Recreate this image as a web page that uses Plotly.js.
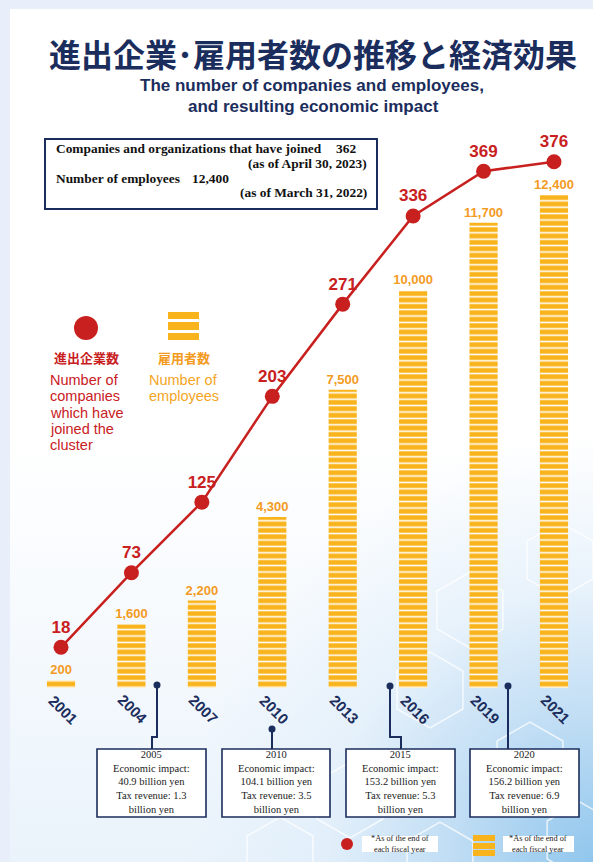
<!DOCTYPE html>
<html>
<head>
<meta charset="utf-8">
<script src="https://cdn.plot.ly/plotly-3.0.1.min.js"></script>
<style>
html,body{margin:0;padding:0;width:593px;height:862px;overflow:hidden;background:#E8EFFA;}
#panel{position:absolute;left:10px;top:9px;width:583px;height:853px;
background:
 radial-gradient(ellipse 70% 50% at 100% 100%, rgba(140,196,236,0.95) 0%, rgba(178,214,242,0.75) 35%, rgba(215,233,249,0.45) 65%, rgba(255,255,255,0) 100%),
 linear-gradient(to bottom, #ffffff 0%, #ffffff 50%, #EAF3FB 100%);}
#chart{position:absolute;left:0;top:0;width:593px;height:862px;}
</style>
</head>
<body>
<div id="panel"></div>
<div id="chart"></div>
<script>
// ---- data ----
const years = ["2001","2004","2007","2010","2013","2016","2019","2021"];
const companies = [18, 73, 125, 203, 271, 336, 369, 376];
const employees = [200, 1600, 2200, 4300, 7500, 10000, 11700, 12400];
const employeeLabels = ["200","1,600","2,200","4,300","7,500","10,000","11,700","12,400"];
const calloutYears = ["2005","2010","2015","2020"];
const calloutImpact = ["40.9","104.1","153.2","156.2"];
const calloutTax = ["1.3","3.5","5.3","6.9"];
const joinedCount = "362";
const joinedDate = "(as of April 30, 2023)";
const employeeCount = "12,400";
const employeeDate = "(as of March 31, 2022)";

// ---- helpers (pixel -> paper) ----
const W = 593, H = 862;
const px = x => x / W;
const py = y => 1 - y / H;

const NAVY = '#1B2D5C';
const RED = '#C8201E';
const BAR = '#F9B41D';
const ORANGE = '#F39B1F';

const traces = [
  {
    type: 'bar', x: years, y: employees,
    text: employeeLabels, textposition: 'outside', constraintext: 'none', cliponaxis: false,
    textfont: {family: 'Liberation Sans', size: 13, color: ORANGE, weight: 'bold'},
    marker: {color: BAR, line: {width: 0},
      pattern: {shape: '-', fillmode: 'replace', bgcolor: BAR, fgcolor: '#FFFFFF', size: 6.4, solidity: 0.24}},
    hoverinfo: 'skip', showlegend: false
  },
  {
    type: 'scatter', mode: 'lines+markers+text', x: years, y: companies, yaxis: 'y2',
    line: {color: RED, width: 2.5},
    marker: {color: RED, size: 15},
    text: companies.map(String), textposition: 'top center', cliponaxis: false,
    textfont: {family: 'Liberation Sans', size: 17, color: RED, weight: 'bold'},
    hoverinfo: 'skip', showlegend: false
  }
];

const ann = [];
const shapes = [];
function txt(x, y, text, opts) {
  ann.push(Object.assign({x: px(x), y: py(y), xref: 'paper', yref: 'paper', text: text,
    showarrow: false, xanchor: 'center', yanchor: 'middle'}, opts || {}));
}

// Title
txt(313, 53, '進出企業･雇用者数の推移と経済効果',
  {font: {family: 'Noto Sans CJK JP', size: 32, color: NAVY, weight: 'bold'}});
txt(312, 86, 'The number of companies and employees,',
  {font: {family: 'Liberation Sans', size: 17, color: NAVY, weight: 'bold'}});
txt(313, 106, 'and resulting economic impact',
  {font: {family: 'Liberation Sans', size: 17, color: NAVY, weight: 'bold'}});

// Info box
shapes.push({type: 'rect', xref: 'paper', yref: 'paper', x0: px(45), x1: px(377), y0: py(139), y1: py(209),
  line: {color: NAVY, width: 2}, fillcolor: '#FFFFFF', layer: 'below'});
const serifB = {family: 'Liberation Serif', size: 13.4, color: '#111111', weight: 'bold'};
txt(54, 148, 'Companies and organizations that have joined', {xanchor: 'left', font: serifB});
txt(346, 148, joinedCount, {font: serifB});
txt(369, 163, joinedDate, {xanchor: 'right', font: serifB});
txt(54, 178, 'Number of employees', {xanchor: 'left', font: serifB});
txt(211, 178, employeeCount, {font: serifB});
txt(369, 193, employeeDate, {xanchor: 'right', font: serifB});

// Middle legend
shapes.push({type: 'circle', xref: 'paper', yref: 'paper', x0: px(74), x1: px(98), y0: py(316), y1: py(340),
  fillcolor: RED, line: {width: 0}});
[[312, 319], [322, 330], [333, 340]].forEach(s => shapes.push({type: 'rect', xref: 'paper', yref: 'paper',
  x0: px(168), x1: px(199), y0: py(s[0]), y1: py(s[1]), fillcolor: BAR, line: {width: 0}}));
txt(86, 357, '進出企業数', {font: {family: 'Noto Sans CJK JP', size: 13, color: RED, weight: 'bold'}});
txt(184, 357, '雇用者数', {font: {family: 'Noto Sans CJK JP', size: 13, color: ORANGE, weight: 'bold'}});
const legRed = ['Number of', 'companies', 'which have', 'joined the', 'cluster'];
legRed.forEach((t, i) => txt(48, 380 + i * 16.3, t, {xanchor: 'left',
  font: {family: 'Liberation Sans', size: 14.5, color: RED}}));
const legOr = ['Number of', 'employees'];
legOr.forEach((t, i) => txt(147, 380 + i * 16.3, t, {xanchor: 'left',
  font: {family: 'Liberation Sans', size: 14.5, color: '#F5A524'}}));

// Year tick labels (rotated), placed on the category axis by index
years.forEach((y, i) => ann.push({x: i, xref: 'x', y: py(709), yref: 'paper', text: y, showarrow: false,
  xanchor: 'center', yanchor: 'middle',
  textangle: 45, xshift: 2, font: {family: 'Liberation Sans', size: 15, color: NAVY, weight: 'bold'}}));

// Callout boxes
const boxes = [[97, 206], [222, 330], [346, 455], [470, 579]];
const connectors = [
  'M157,685 L157,737 L152,737 L152,749',
  'M272,729 L272,749',
  'M390,686 L390,737 L401,737 L401,749',
  'M508,686 L508,749'
];
const dots = [[157, 685], [272, 729], [390, 686], [508, 686]];
function pathToPaper(p) {
  return p.replace(/([ML])(\d+(?:\.\d+)?),(\d+(?:\.\d+)?)/g,
    (m, c, x, y) => c + px(+x).toFixed(5) + ',' + py(+y).toFixed(5));
}
connectors.forEach(c => shapes.push({type: 'path', xref: 'paper', yref: 'paper', path: pathToPaper(c),
  line: {color: NAVY, width: 2}}));
dots.forEach(d => shapes.push({type: 'circle', xref: 'paper', yref: 'paper',
  x0: px(d[0] - 3.5), x1: px(d[0] + 3.5), y0: py(d[1] - 3.5), y1: py(d[1] + 3.5), fillcolor: NAVY, line: {width: 0}}));
const serif = {family: 'Liberation Serif', size: 10.5, color: '#1A1A1A'};
boxes.forEach((b, i) => {
  shapes.push({type: 'rect', xref: 'paper', yref: 'paper', x0: px(b[0]), x1: px(b[1]), y0: py(749), y1: py(817),
    line: {color: NAVY, width: 1.6}, fillcolor: '#FFFFFF'});
  const lines = [calloutYears[i], 'Economic impact:', calloutImpact[i] + ' billion yen',
    'Tax revenue: ' + calloutTax[i], 'billion yen'];
  txt((b[0] + b[1]) / 2, 782, lines.join('<br>'), {font: serif});
});

// Bottom legend
shapes.push({type: 'circle', xref: 'paper', yref: 'paper', x0: px(341), x1: px(353), y0: py(838), y1: py(850),
  fillcolor: RED, line: {width: 0}});
[[835, 841], [843, 849], [850, 856]].forEach(s => shapes.push({type: 'rect', xref: 'paper', yref: 'paper',
  x0: px(473), x1: px(495), y0: py(s[0]), y1: py(s[1]), fillcolor: BAR, line: {width: 0}}));
[[362, 438], [503, 574]].forEach(r => shapes.push({type: 'rect', xref: 'paper', yref: 'paper',
  x0: px(r[0]), x1: px(r[1]), y0: py(836), y1: py(852), fillcolor: '#FFFFFF', line: {width: 0}}));
const small = {family: 'Liberation Serif', size: 8.3, color: '#1A1A1A'};
[400, 538].forEach(c => txt(c, 844, '*As of the end of<br>each fiscal year', {font: small}));

// Decorative hexagons
function hex(cx, cy, r) {
  let p = '';
  for (let k = 0; k < 6; k++) {
    const a = Math.PI / 3 * k + Math.PI / 6;
    const x = cx + r * Math.cos(a), y = cy + r * Math.sin(a);
    p += (k === 0 ? 'M' : 'L') + px(x).toFixed(5) + ',' + py(y).toFixed(5);
  }
  return p + 'Z';
}
[[470, 610, 38], [560, 560, 38], [430, 690, 38], [530, 760, 38], [350, 800, 38], [580, 840, 38], [440, 860, 38], [280, 855, 38]]
  .forEach(h => shapes.push({type: 'path', xref: 'paper', yref: 'paper', path: hex(h[0], h[1], h[2]),
    line: {color: 'rgba(255,255,255,0.75)', width: 1.5}, layer: 'below'}));

const layout = {
  width: W, height: H, autosize: false,
  margin: {l: 0, r: 0, t: 0, b: 0, pad: 0},
  paper_bgcolor: 'rgba(0,0,0,0)', plot_bgcolor: 'rgba(0,0,0,0)',
  bargap: 0.6,
  xaxis: {type: 'category', domain: [px(25.8), px(589.2)], range: [-0.5, 7.5],
    showticklabels: false, showgrid: false, zeroline: false, showline: false, ticks: '', fixedrange: true},
  yaxis: {domain: [py(688), py(140)], range: [0, 13784], visible: false, fixedrange: true},
  yaxis2: {overlaying: 'y', range: [-12, 392], visible: false, fixedrange: true},
  annotations: ann,
  shapes: shapes,
  showlegend: false
};

Plotly.newPlot('chart', traces, layout, {staticPlot: true, displayModeBar: false});
</script>
</body>
</html>
